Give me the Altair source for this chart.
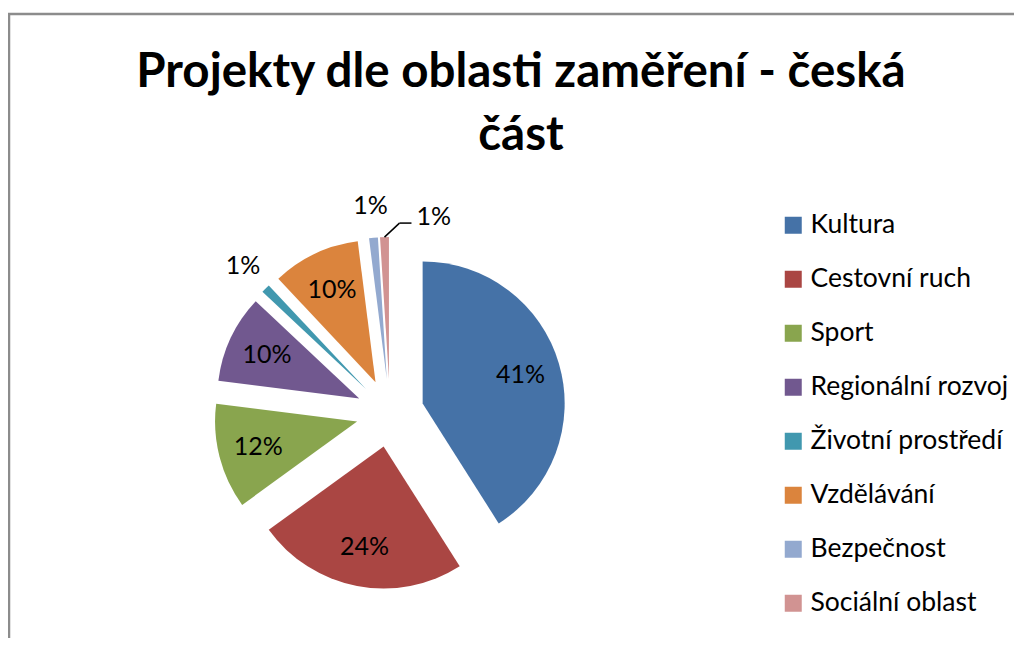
import math
import altair as alt
import pandas as pd

# ---- data -------------------------------------------------------------
categories = ["Kultura", "Cestovní ruch", "Sport", "Regionální rozvoj",
              "Životní prostředí", "Vzdělávání", "Bezpečnost", "Sociální oblast"]
shares = [41, 24, 12, 10, 1, 10, 1, 1]
colors = ["#4572A7", "#AA4643", "#89A54E", "#71588F",
          "#4198AF", "#DB843D", "#93A9CF", "#D19392"]
title_lines = ["Projekty dle oblasti zaměření - česká", "část"]
leader_labels = ["Sociální oblast"]

# ---- layout constants (view coordinates) ------------------------------
W, H = 1006, 625
PAD_TOP = 5
CX, CY = 382, 400
R = 142
EXPLODE = 34
LABEL_IN = 102
LABEL_OUT = 174
FONT = "Lato"

df = pd.DataFrame({"cat": categories, "share": shares,
                   "idx": list(range(len(categories)))})

leader_expr = "indexof(" + str(leader_labels).replace("'", '"') + ", datum.cat) >= 0"

base = (
    alt.Chart(df)
    .transform_window(cum="sum(share)", sort=[alt.SortField("idx")], frame=[None, 0])
    .transform_joinaggregate(total="sum(share)")
    .transform_calculate(
        f0="(datum.cum - datum.share) / datum.total",
        f1="datum.cum / datum.total",
        mid="(datum.cum - datum.share / 2) / datum.total * 2 * PI",
        pct="format(datum.share / datum.total, '.0%')",
    )
    .transform_calculate(
        ax=f"{CX} + {EXPLODE} * sin(datum.mid)",
        ay=f"{CY} - {EXPLODE} * cos(datum.mid)",
    )
    .transform_calculate(
        rl=f"datum.share / datum.total >= 0.05 ? {LABEL_IN} : {LABEL_OUT}",
        ox=f"datum.ax + {R} * sin(datum.mid)",
        oy=f"datum.ay - {R} * cos(datum.mid)",
        leader=leader_expr,
    )
    .transform_calculate(
        lx="datum.ax + datum.rl * sin(datum.mid)",
        ly="datum.ay - datum.rl * cos(datum.mid)",
        bx="datum.ox + 15",
        by="datum.oy - 14",
        ex="datum.ox + 27",
    )
)

pie = base.mark_arc(outerRadius=R).encode(
    theta=alt.Theta("f0:Q", scale=alt.Scale(domain=[0, 1], range=[0, 2 * math.pi]), stack=None),
    theta2=alt.Theta2("f1:Q"),
    x=alt.X("ax:Q", scale=None),
    y=alt.Y("ay:Q", scale=None),
    color=alt.Color(
        "cat:N",
        scale=alt.Scale(domain=categories, range=colors),
        legend=alt.Legend(
            title=None, orient="none", legendX=772, legendY=199,
            symbolType="square", symbolSize=289, symbolStrokeWidth=0,
            labelFont=FONT, labelFontSize=26.5, labelColor="#000000",
            labelOffset=4, rowPadding=27, symbolOpacity=1, labelLimit=400,
        ),
    ),
)

labels = base.transform_filter("!datum.leader").mark_text(
    font=FONT, fontSize=25, color="#000000", align="center", baseline="middle"
).encode(
    x=alt.X("lx:Q", scale=None),
    y=alt.Y("ly:Q", scale=None),
    text="pct:N",
)

lead = base.transform_filter("datum.leader")
lead1 = lead.mark_rule(color="#000000", strokeWidth=1.5).encode(
    x=alt.X("ox:Q", scale=None), y=alt.Y("oy:Q", scale=None),
    x2="bx:Q", y2="by:Q",
)
lead2 = lead.mark_rule(color="#000000", strokeWidth=1.5).encode(
    x=alt.X("bx:Q", scale=None), y=alt.Y("by:Q", scale=None),
    x2="ex:Q", y2="by:Q",
)
lead_text = lead.mark_text(
    font=FONT, fontSize=25, color="#000000", align="left", baseline="middle", dx=5, dy=-6
).encode(
    x=alt.X("ex:Q", scale=None), y=alt.Y("by:Q", scale=None), text="pct:N",
)

frame_src = alt.Chart(pd.DataFrame({"k": [0]}))
border_top = frame_src.mark_rule(color="#8c8c8c", strokeWidth=2.5).encode(
    x=alt.value(0), x2=alt.value(W + 10), y=alt.value(1)
)
border_left = frame_src.mark_rule(color="#8c8c8c", strokeWidth=2.5).encode(
    x=alt.value(1), y=alt.value(0), y2=alt.value(H + 10)
)
title = frame_src.mark_text(
    text=title_lines, font=FONT, fontSize=47.5, fontWeight="bold", color="#000000",
    align="center", baseline="alphabetic", lineHeight=63,
).encode(x=alt.value(513), y=alt.value(74))

chart = (
    alt.layer(border_top, border_left, title, pie, labels, lead1, lead2, lead_text)
    .properties(
        width=W, height=H,
        autosize=alt.AutoSizeParams(type="none"),
        padding={"left": 0, "top": PAD_TOP, "right": 0, "bottom": 0},
        view=alt.ViewBackground(stroke="transparent", strokeWidth=0),
    )
    .configure_view(stroke="transparent", strokeWidth=0)
    .configure(background="#ffffff")
)

chart.save("out.html", embed_options={"renderer": "svg", "actions": False})
